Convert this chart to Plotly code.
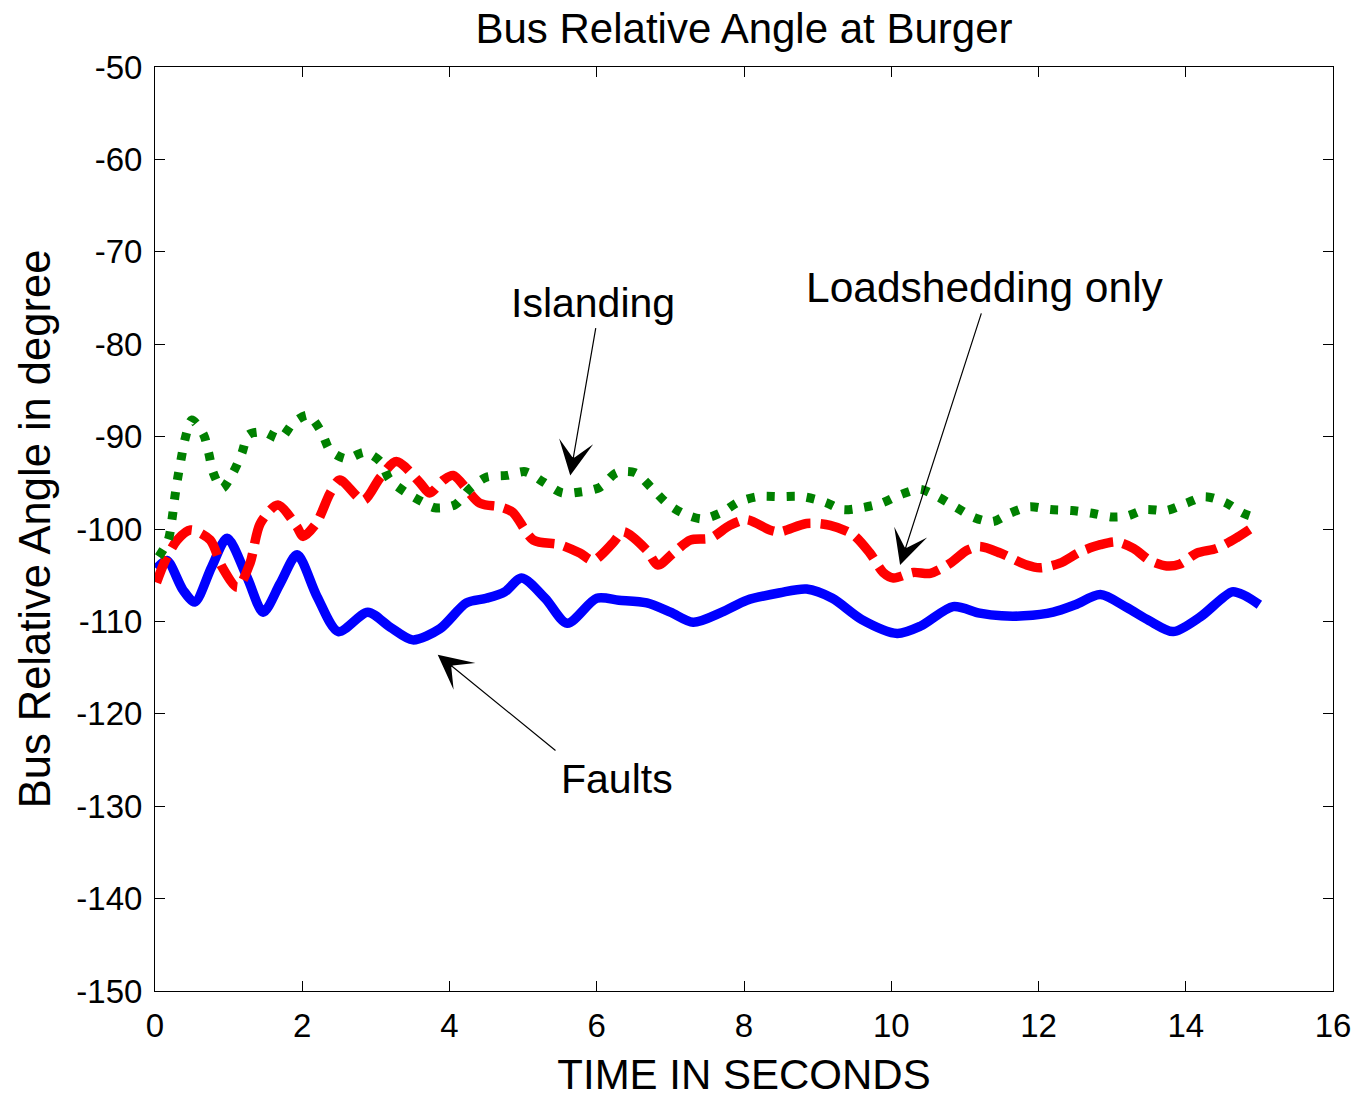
import plotly.graph_objects as go

# ---- data ----
t_faults = [0.02, 0.16, 0.38, 0.54, 0.77, 0.98, 1.25, 1.47, 1.7, 1.93, 2.2, 2.49, 2.89, 3.19,
            3.5, 3.87, 4.23, 4.5, 4.75, 4.98, 5.3, 5.6, 6.0, 6.3, 6.68, 7.0, 7.31, 7.7, 8.04,
            8.49, 8.85, 9.2, 9.6, 10.08, 10.4, 10.84, 11.2, 11.5, 11.8, 12.2, 12.5, 12.84,
            13.2, 13.5, 13.83, 14.2, 14.63, 14.8, 15.0]
v_faults = [-104.3, -103.4, -106.6, -107.9, -104.1, -101.0, -105.2, -109.0, -105.9, -102.8,
            -107.3, -111.1, -109.0, -110.6, -112.0, -110.8, -108.0, -107.5, -106.8, -105.3,
            -107.5, -110.2, -107.5, -107.7, -108.0, -109.0, -110.1, -109.0, -107.7, -106.9,
            -106.5, -107.5, -109.8, -111.3, -110.5, -108.4, -109.1, -109.4, -109.4, -109.0,
            -108.2, -107.1, -108.5, -109.9, -111.1, -109.5, -106.8, -107.2, -108.2]

t_load = [0.02, 0.14, 0.3, 0.48, 0.75, 0.91, 1.12, 1.29, 1.43, 1.67, 1.93, 2.01, 2.19, 2.38,
          2.51, 2.83, 3.06, 3.28, 3.6, 3.73, 3.92, 4.05, 4.41, 4.69, 4.86, 5.14, 5.5, 5.77,
          5.95, 6.22, 6.36, 6.68, 6.83, 7.04, 7.27, 7.54, 7.81, 8.04, 8.35, 8.49, 8.85, 9.17,
          9.48, 9.71, 9.89, 10.03, 10.3, 10.53, 10.8, 11.03, 11.2, 11.48, 11.84, 12.02, 12.29,
          12.56, 12.84, 13.06, 13.29, 13.51, 13.74, 13.92, 14.15, 14.42, 14.7, 14.95]
v_load = [-105.8, -103.4, -101.2, -100.1, -101.2, -104.1, -106.3, -103.7, -99.4, -97.4, -99.8,
          -100.8, -99.4, -96.1, -94.7, -96.9, -94.4, -92.7, -95.0, -96.1, -94.7, -94.2, -97.2,
          -97.6, -98.2, -101.2, -101.7, -102.6, -103.4, -101.5, -100.3, -102.3, -103.9, -102.6,
          -101.2, -101.0, -99.6, -99.0, -100.1, -100.3, -99.4, -99.6, -100.6, -102.6, -104.7,
          -105.3, -104.7, -104.8, -103.7, -102.3, -101.9, -102.6, -103.9, -104.2, -103.7,
          -102.5, -101.7, -101.4, -102.1, -103.4, -104.0, -103.8, -102.6, -102.1, -100.9, -99.6]

t_island = [0.05, 0.18, 0.23, 0.27, 0.31, 0.36, 0.41, 0.5, 0.66, 0.73, 0.79, 0.91, 1.06, 1.18,
            1.27, 1.47, 1.7, 1.88, 2.08, 2.26, 2.38, 2.6, 2.85, 3.06, 3.19, 3.42, 3.64, 3.8,
            4.07, 4.28, 4.5, 4.78, 5.03, 5.27, 5.53, 5.77, 6.04, 6.27, 6.52, 6.75, 6.95, 7.17,
            7.43, 7.7, 7.92, 8.19, 8.49, 8.8, 9.1, 9.34, 9.6, 9.87, 10.12, 10.39, 10.63, 10.89,
            11.14, 11.38, 11.61, 11.88, 12.16, 12.45, 12.73, 13.0, 13.2, 13.45, 13.74, 14.01,
            14.26, 14.53, 14.78, 15.0]
v_island = [-103.0, -101.2, -99.0, -96.5, -94.4, -92.2, -90.2, -88.2, -89.8, -91.8, -93.9,
            -95.6, -93.9, -91.8, -89.8, -89.5, -90.2, -88.5, -87.7, -89.5, -91.5, -92.4, -91.7,
            -92.7, -94.7, -96.1, -97.1, -97.7, -97.4, -95.6, -94.4, -94.2, -93.8, -94.9, -96.1,
            -96.0, -95.5, -93.9, -93.9, -95.6, -97.2, -98.3, -98.9, -98.2, -97.1, -96.5, -96.5,
            -96.5, -97.1, -97.9, -97.7, -97.2, -96.3, -95.7, -96.5, -97.7, -98.8, -99.2, -98.3,
            -97.6, -97.9, -98.0, -98.3, -98.7, -98.6, -97.9, -98.0, -97.2, -96.5, -97.1, -98.3,
            -98.9]

x_ticks = [0, 2, 4, 6, 8, 10, 12, 14, 16]
x_labels = ["0", "2", "4", "6", "8", "10", "12", "14", "16"]
y_ticks = [-150, -140, -130, -120, -110, -100, -90, -80, -70, -60, -50]
y_labels = ["-150", "-140", "-130", "-120", "-110", "-100", "-90", "-80", "-70", "-60", "-50"]

FONT = "Liberation Sans, Arial, sans-serif"

fig = go.Figure()
fig.add_trace(go.Scatter(x=t_faults, y=v_faults, mode="lines", name="Faults",
                         line=dict(color="#0000ff", width=9.5, shape="spline", smoothing=0.8)))
fig.add_trace(go.Scatter(x=t_load, y=v_load, mode="lines", name="Loadshedding only",
                         line=dict(color="#ff0000", width=9.5, dash="28px,10px",
                                   shape="spline", smoothing=0.8)))
fig.add_trace(go.Scatter(x=t_island, y=v_island, mode="lines", name="Islanding",
                         line=dict(color="#008000", width=9, dash="8px,12px",
                                   shape="spline", smoothing=0.8)))

# arrows (tip -> tail in data coords)
arrows = [
    (5.64, -94.2, 5.99, -78.1),
    (10.12, -103.9, 11.23, -76.5),
    (3.84, -113.6, 5.46, -124.1),
]
for x, y, ax, ay in arrows:
    fig.add_annotation(x=x, y=y, ax=ax, ay=ay, xref="x", yref="y", axref="x", ayref="y",
                       text="", showarrow=True, arrowhead=3, arrowsize=4.8, arrowwidth=1.2,
                       arrowcolor="black")

labels = [
    ("Islanding", 5.95, -75.5, 41),
    ("Loadshedding only", 11.27, -73.9, 42.5),
    ("Faults", 6.27, -127.1, 41),
]
for txt, x, y, sz in labels:
    fig.add_annotation(x=x, y=y, xref="x", yref="y", text=txt, showarrow=False,
                       font=dict(family=FONT, size=sz, color="black"))

axis_common = dict(showgrid=False, zeroline=False, showline=True, linecolor="black",
                   linewidth=1, mirror="ticks", ticks="inside", ticklen=10,
                   tickcolor="black", tickwidth=1, ticklabelstandoff=5, automargin=False,
                   tickfont=dict(family=FONT, size=33, color="black"))

fig.update_xaxes(range=[0, 16], tickvals=x_ticks, ticktext=x_labels,
                 title=dict(text="TIME IN SECONDS", font=dict(family=FONT, size=42, color="black"),
                            standoff=17),
                 **axis_common)
fig.update_yaxes(range=[-150, -50], tickvals=y_ticks, ticktext=y_labels,
                 title=dict(text="Bus Relative Angle in degree",
                            font=dict(family=FONT, size=43.5, color="black"), standoff=12),
                 **axis_common)

# page body has an 8px margin, so the figure is sized/offset to compensate
fig.update_layout(
    width=1352, height=1092,
    margin=dict(l=147, r=27, t=59, b=109),
    paper_bgcolor="white", plot_bgcolor="white",
    showlegend=False,
    title=dict(text="Bus Relative Angle at Burger", x=0.5, xanchor="center",
               xref="paper", y=1 - 20 / 1092, yref="container", yanchor="middle",
               font=dict(family=FONT, size=42, color="black")),
)

fig.write_html("out.html")
